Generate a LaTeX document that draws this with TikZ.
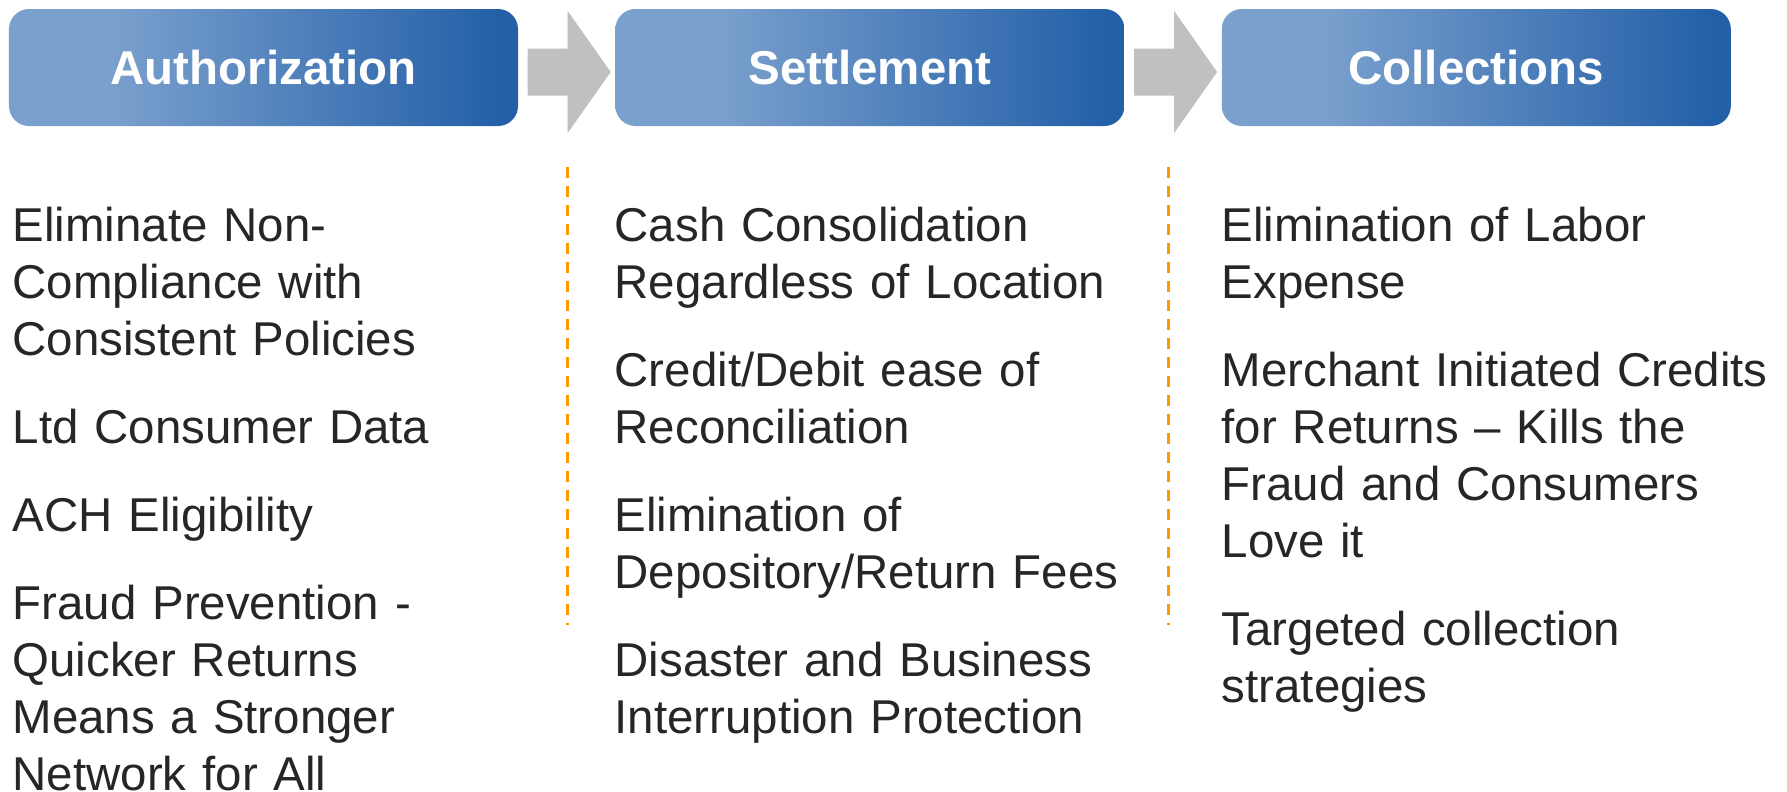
\documentclass[tikz,border=0pt]{standalone}
\usepackage{fontspec}
\setmainfont{Liberation Sans}
\usetikzlibrary{positioning}
\definecolor{hdrlight}{RGB}{122,160,205}
\definecolor{hdrdark}{RGB}{36,96,168}
\definecolor{sepline}{RGB}{255,153,0}
\definecolor{arrgray}{RGB}{192,192,192}
\definecolor{bodytext}{RGB}{38,38,38}
\pgfdeclarehorizontalshading{hdrshade}{100bp}{color(0bp)=(hdrlight); color(35bp)=(hdrlight); color(73bp)=(hdrdark); color(100bp)=(hdrdark)}
\tikzset{
  hdr/.style={rectangle, rounded corners=0.2cm, minimum width=5.09cm, minimum height=1.17cm, inner sep=0pt, shading=hdrshade, text=white, font=\fontsize{13.5}{16.2}\selectfont\bfseries},
  txt/.style={anchor=north west, inner sep=0pt, align=left, text width=5.6cm, text=bodytext, font=\fontsize{13.5}{16.2}\selectfont},
  sep/.style={sepline, line width=0.03cm, dash pattern=on 0.11cm off 0.08cm}
}

\begin{document}
\begin{tikzpicture}
\useasboundingbox (0,0) rectangle (17.87,-7.91);
\node[hdr] (auth) at (2.635,-0.675) {Authorization};
\node[hdr, right=0.96cm of auth] (settle) {Settlement};
\node[hdr, right=0.96cm of settle] (coll) {Collections};
\coordinate (arr1) at ([xshift=0.09cm, yshift=-0.045cm] auth.east);
\coordinate (arr2) at ([xshift=0.09cm, yshift=-0.045cm] settle.east);
\fill[arrgray] (arr1) ++(0,0.235) -- ++(0.40,0) -- ++(0,0.375) -- ++(0.43,-0.61) -- ++(-0.43,-0.61) -- ++(0,0.375) -- ++(-0.40,0) -- cycle;
\fill[arrgray] (arr2) ++(0,0.235) -- ++(0.40,0) -- ++(0,0.375) -- ++(0.43,-0.61) -- ++(-0.43,-0.61) -- ++(0,0.375) -- ++(-0.40,0) -- cycle;
\coordinate (s1top) at (5.67,-1.67);
\coordinate (s1bot) at (5.67,-6.25);
\coordinate (s2top) at (11.68,-1.67);
\coordinate (s2bot) at (11.68,-6.25);
\draw[sep] (s1top) -- (s1bot);
\draw[sep] (s2top) -- (s2bot);

\node[txt] (a1) at (0.12,-2.01) {\strut Eliminate Non-\\Compliance with\\Consistent Policies\strut};
\node[txt, below=0.296cm of a1] (a2) {\strut Ltd Consumer Data\strut};
\node[txt, below=0.296cm of a2] (a3) {\strut ACH Eligibility\strut};
\node[txt, below=0.296cm of a3] (a4) {\strut Fraud Prevention -\\Quicker Returns\\Means a Stronger\\Network for All\strut};

\node[txt] (s1) at (6.14,-2.01) {\strut Cash Consolidation\\Regardless of Location\strut};
\node[txt, below=0.296cm of s1] (s2) {\strut Credit/Debit ease of\\Reconciliation\strut};
\node[txt, below=0.296cm of s2] (s3) {\strut Elimination of\\Depository/Return Fees\strut};
\node[txt, below=0.296cm of s3] (s4) {\strut Disaster and Business\\Interruption Protection\strut};

\node[txt] (c1) at (12.21,-2.01) {\strut Elimination of Labor\\Expense\strut};
\node[txt, below=0.296cm of c1] (c2) {\strut Merchant Initiated Credits\\for Returns -- Kills the\\Fraud and Consumers\\Love it\strut};
\node[txt, below=0.296cm of c2] (c3) {\strut Targeted collection\\strategies\strut};
\end{tikzpicture}
\end{document}
